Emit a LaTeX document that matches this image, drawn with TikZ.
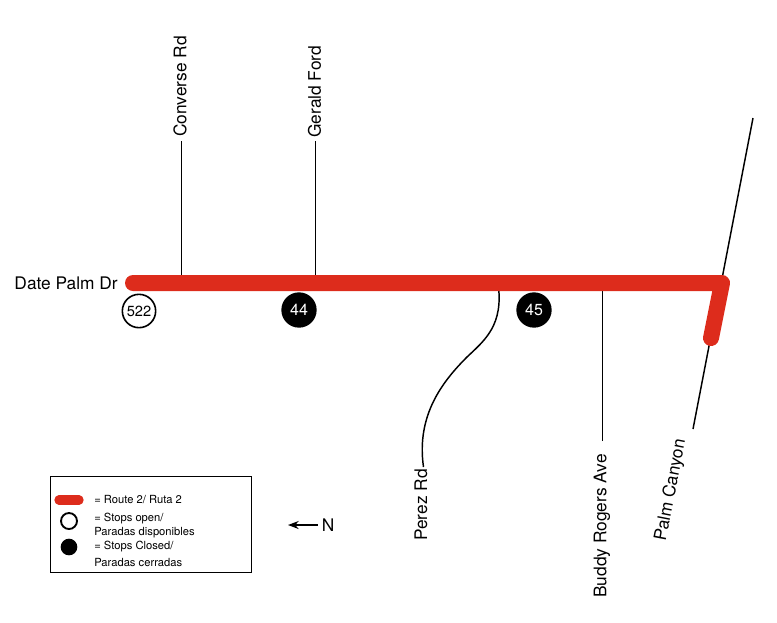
\documentclass[tikz,border=0pt]{standalone}
\usepackage{fontspec}
\setmainfont{TeX Gyre Heros}
\usetikzlibrary{arrows.meta}

\tikzset{
  street/.style={line width=1.1pt, black},
  route/.style={line width=12pt, color=routered, line cap=round, line join=round},
  streetlabel/.style={font=\fontsize{13}{15}\selectfont, inner sep=0pt},
  legendtext/.style={font=\fontsize{8.4}{10}\selectfont, inner sep=0pt, anchor=west},
  stopopen/.style={circle, draw=black, line width=1.2pt, fill=white, minimum size=25pt, inner sep=0pt, font=\fontsize{11}{12}\selectfont},
  stopclosed/.style={circle, fill=black, text=white, minimum size=26.5pt, inner sep=0pt, font=\fontsize{12}{14}\selectfont}
}
\definecolor{routered}{RGB}{221,44,28}

\begin{document}
\begin{tikzpicture}[x=0.75pt, y=-0.75pt]

\useasboundingbox (0,0) rectangle (777,622);

\coordinate (start) at (133,283);
\coordinate (corner) at (722,283);
\coordinate (end) at (711,338);
\coordinate (m1) at (181.5,283);
\coordinate (m2) at (315.5,283);
\coordinate (m3) at (498,283);
\coordinate (m4) at (602.7,283);
\coordinate (palmtop) at (753,118);

% street names
\node[streetlabel, rotate=90, anchor=west] (converse) at (180,137) {Converse Rd};
\node[streetlabel, rotate=90, anchor=west] (gerald) at (314.5,138) {Gerald Ford};
\node[streetlabel, rotate=90, anchor=west] (perez) at (421,541) {Perez Rd};
\node[streetlabel, rotate=90, anchor=west] (buddy) at (602,598) {Buddy Rogers Ave};
\node[streetlabel, rotate=79] (palm) at (671,490) {Palm Canyon};
\node[streetlabel, anchor=east] (date) at (118,283) {Date Palm Dr};

% side streets
\draw[street] (181.5,141) to (m1);
\draw[street] (315.5,141) to (m2);
\draw[street] (602.7,441) to (m4);
\draw[street] (m3) .. controls (504,325) and (485,340) .. (467,357)
  .. controls (443,381) and (416,415) .. (423.5,467);
\draw[street] (palmtop) to (693,429);

% route
\draw[route] (start) to (corner) to (end);

% stops
\node[stopopen] (s522) at (139,311) {522};
\node[stopclosed] (s44) at (299,310) {44};
\node[stopclosed] (s45) at (534,310) {45};

% legend
\node[draw=black, line width=1.1pt, minimum width=150.75pt, minimum height=72pt, inner sep=0pt] (legend) at (151,524.5) {};
\draw[line width=7pt, routered, line cap=round] (59,500) to (79,500);
\node[circle, draw=black, line width=1.4pt, minimum size=12pt, inner sep=0pt] (lopen) at (69,521) {};
\node[circle, fill=black, minimum size=12.5pt, inner sep=0pt] (lclosed) at (69,547) {};
\node[legendtext] (l1) at (94,500) {= Route 2/ Ruta 2};
\node[legendtext] (l2) at (94,519) {= Stops open/};
\node[legendtext] (l3) at (94,533) {Paradas disponibles};
\node[legendtext] (l4) at (94,547) {= Stops Closed/};
\node[legendtext] (l5) at (94,562) {Paradas cerradas};

% north arrow
\node[streetlabel, anchor=west] (north) at (321.5,525) {N};
\draw[-{Stealth[length=8pt,width=6pt]}, line width=1.1pt, shorten <=3pt] (north) to (288,525);

\end{tikzpicture}
\end{document}
